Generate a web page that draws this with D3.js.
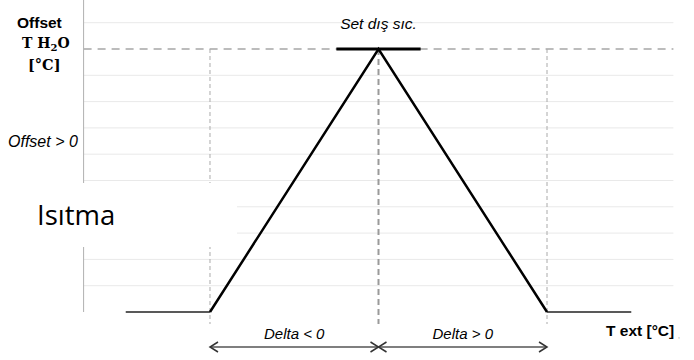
<!DOCTYPE html>
<html>
<head>
<meta charset="utf-8">
<script src="https://cdn.jsdelivr.net/npm/d3@7"></script>
<style>
  body { margin: 0; background: #fff; }
  svg { display: block; }
</style>
</head>
<body>
<script>
// curve of the water offset vs outdoor temperature (relative units)
var tExt = [-1.5, -1, 0, 1, 1.5];
var offset = [0, 0, 1, 0, 0];
var setBand = [-0.25, 0.25];        // "Set dış sıc." plateau
var kneeX = [-1, 0, 1];             // vertical dashed guides
var gridY = [0.1, 0.2, 0.3, 0.4, 0.5, 0.6, 0.7, 0.8, 0.9, 1.1];
var deltaSpans = [[-1, 0], [0, 1]];
var deltaLabels = ['Delta < 0', 'Delta > 0'];

var width = 694, height = 360;
var svg = d3.select('body').append('svg')
  .attr('width', width).attr('height', height);

var x = d3.scaleLinear().domain([-1.75, 1.75]).range([83.6, 673.4]);
var y = d3.scaleLinear().domain([0, 1.1]).range([312, 22.7]);

// faint horizontal gridlines
svg.selectAll('.grid').data(gridY).enter().append('line')
  .attr('x1', x(-1.75)).attr('x2', x(1.75))
  .attr('y1', function (d) { return y(d); })
  .attr('y2', function (d) { return y(d); })
  .attr('stroke', '#e9e9e9').attr('stroke-width', 1);

// dashed offset level
svg.append('line')
  .attr('x1', x(-1.75)).attr('x2', x(1.75))
  .attr('y1', y(1)).attr('y2', y(1))
  .attr('stroke', '#a6a6a6').attr('stroke-width', 1.5)
  .attr('stroke-dasharray', '8,6');

// vertical dashed guides
svg.selectAll('.guide').data(kneeX).enter().append('line')
  .attr('x1', function (d) { return x(d); })
  .attr('x2', function (d) { return x(d); })
  .attr('y1', y(1)).attr('y2', 324)
  .attr('stroke', function (d) { return d === 0 ? '#9a9a9a' : '#aaaaaa'; })
  .attr('stroke-width', function (d) { return d === 0 ? 2 : 1; })
  .attr('stroke-dasharray', function (d) { return d === 0 ? '6,4' : '4,3'; });

// y axis line
svg.append('line')
  .attr('x1', x(-1.75)).attr('x2', x(-1.75))
  .attr('y1', 0).attr('y2', y(0))
  .attr('stroke', '#b0b0b0').attr('stroke-width', 1);

// white box behind "Isıtma"
svg.append('rect')
  .attr('x', 60).attr('y', 183).attr('width', 177).attr('height', 64)
  .attr('fill', '#fff');

// flat tails
var line = d3.line()
  .x(function (d) { return x(d[0]); })
  .y(function (d) { return y(d[1]); });
var pts = tExt.map(function (d, i) { return [d, offset[i]]; });
svg.append('path')
  .attr('d', line([pts[0], pts[1]]))
  .attr('stroke', '#222').attr('stroke-width', 1.5).attr('fill', 'none');
svg.append('path')
  .attr('d', line([pts[3], pts[4]]))
  .attr('stroke', '#222').attr('stroke-width', 1.5).attr('fill', 'none');

// triangle
svg.append('path')
  .attr('d', line(pts.slice(1, 4)))
  .attr('stroke', '#000').attr('stroke-width', 2.5).attr('fill', 'none');

// set plateau
svg.append('line')
  .attr('x1', x(setBand[0])).attr('x2', x(setBand[1]))
  .attr('y1', y(1)).attr('y2', y(1))
  .attr('stroke', '#000').attr('stroke-width', 3);

// delta arrows
var ay = 347;
deltaSpans.forEach(function (s, i) {
  var x0 = x(s[0]), x1 = x(s[1]);
  svg.append('line')
    .attr('x1', x0).attr('x2', x1).attr('y1', ay).attr('y2', ay)
    .attr('stroke', '#555').attr('stroke-width', 1.5);
  svg.append('path')
    .attr('d', 'M' + (x0 + 8) + ',' + (ay - 5) + 'L' + x0 + ',' + ay + 'L' + (x0 + 8) + ',' + (ay + 5) +
               'M' + (x1 - 8) + ',' + (ay - 5) + 'L' + x1 + ',' + ay + 'L' + (x1 - 8) + ',' + (ay + 5))
    .attr('stroke', '#333').attr('stroke-width', 1.5).attr('fill', 'none');
  svg.append('text')
    .attr('x', (x0 + x1) / 2).attr('y', 339)
    .attr('text-anchor', 'middle')
    .style('font-family', 'Liberation Sans, Arial, sans-serif')
    .style('font-style', 'italic').style('font-size', '15px')
    .text(deltaLabels[i]);
});

// texts
svg.append('text')
  .attr('x', x(0)).attr('y', 29).attr('text-anchor', 'middle')
  .style('font-family', 'Liberation Sans, Arial, sans-serif')
  .style('font-style', 'italic').style('font-size', '15.5px')
  .text('Set dış sıc.');

svg.append('text')
  .attr('x', 17).attr('y', 28)
  .style('font-family', 'Liberation Sans, Arial, sans-serif')
  .style('font-weight', 'bold').style('font-size', '15.5px')
  .text('Offset');

var th = svg.append('text')
  .attr('x', 22).attr('y', 48)
  .style('font-family', 'DejaVu Serif, serif')
  .style('font-weight', 'bold').style('font-size', '14px');
th.append('tspan').text('T H');
th.append('tspan').attr('dy', 3).style('font-size', '10px').text('2');
th.append('tspan').attr('dy', -3).text('O');

svg.append('text')
  .attr('x', 28).attr('y', 70)
  .style('font-family', 'DejaVu Serif, serif')
  .style('font-weight', 'bold').style('font-size', '14.5px')
  .text('[°C]');

svg.append('text')
  .attr('x', 8).attr('y', 147)
  .style('font-family', 'Liberation Sans, Arial, sans-serif')
  .style('font-style', 'italic').style('font-size', '16px')
  .text('Offset > 0');

svg.append('text')
  .attr('x', 37).attr('y', 225)
  .style('font-family', 'Open Sans, sans-serif')
  .style('font-size', '27.5px')
  .text('Isıtma');

svg.append('text')
  .attr('x', 606).attr('y', 336)
  .style('font-family', 'Liberation Sans, Arial, sans-serif')
  .style('font-weight', 'bold').style('font-size', '15.5px')
  .text('T ext [°C]');
svg.append('text')
  .attr('x', 678).attr('y', 338)
  .style('font-family', 'Liberation Sans, Arial, sans-serif')
  .style('font-size', '7px').attr('fill', '#888')
  .text(',');
</script>
</body>
</html>
